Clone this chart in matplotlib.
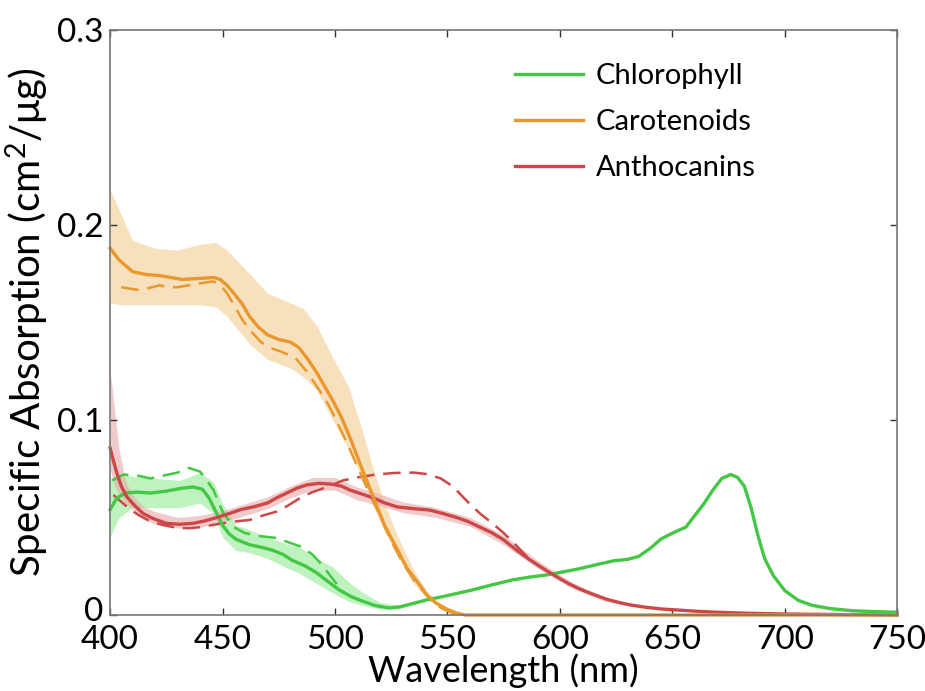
import numpy as np
import matplotlib
matplotlib.use("Agg")
import matplotlib.pyplot as plt
import matplotlib.transforms as mtransforms

plt.rcParams['font.family'] = ['Lato', 'DejaVu Sans']
plt.rcParams['mathtext.fontset'] = 'custom'
plt.rcParams['mathtext.rm'] = 'Lato'
plt.rcParams['mathtext.it'] = 'Lato'

# ---- chlorophyll ----
chl_wl = [400, 403, 407, 412, 418, 425, 432, 437, 441, 444, 447, 450, 453, 456, 462, 467,
          472, 477, 481, 487, 492, 497, 502, 507, 512, 518, 524, 529, 535, 541, 547, 554,
          561, 570, 579, 587, 594, 601, 609, 617, 624, 630, 635, 640, 645, 651, 656, 660,
          664, 668, 672, 676, 679, 682, 685, 688, 691, 695, 700, 706, 712, 720, 730, 740, 750]
chl_val = [0.054, 0.060, 0.0626, 0.063, 0.0625, 0.0635, 0.065, 0.0656, 0.0645, 0.060, 0.053,
           0.046, 0.0415, 0.0388, 0.036, 0.0348, 0.0333, 0.031, 0.028, 0.025, 0.0215, 0.017,
           0.0128, 0.0095, 0.0072, 0.0048, 0.0036, 0.0042, 0.006, 0.0078, 0.0092, 0.011,
           0.0128, 0.0155, 0.018, 0.0195, 0.0205, 0.022, 0.0238, 0.026, 0.0278, 0.0285, 0.030,
           0.034, 0.039, 0.0425, 0.045, 0.051, 0.057, 0.064, 0.070, 0.072, 0.0705, 0.066,
           0.055, 0.041, 0.029, 0.020, 0.0125, 0.0075, 0.005, 0.0033, 0.0022, 0.0017, 0.0014]
chl_dash_wl = [401, 406, 412, 418, 424, 430, 435, 440, 443, 446, 450, 455, 460, 466, 474,
               480, 485, 490, 494, 498, 502]
chl_dash_val = [0.069, 0.072, 0.0715, 0.070, 0.0715, 0.073, 0.0754, 0.0735, 0.069, 0.064,
                0.053, 0.045, 0.042, 0.0405, 0.0395, 0.037, 0.035, 0.031, 0.026, 0.020, 0.014]
chl_band_wl = [400, 404, 410, 420, 431, 440, 446, 450, 456, 462, 470, 477, 484, 492, 499,
               506, 512, 520, 528, 535]
chl_lo = [0.040, 0.050, 0.055, 0.055, 0.055, 0.0574, 0.052, 0.040, 0.033, 0.032, 0.029,
          0.025, 0.0215, 0.016, 0.0113, 0.007, 0.005, 0.003, 0.003, 0.0055]
chl_hi = [0.070, 0.073, 0.071, 0.070, 0.069, 0.073, 0.068, 0.057, 0.046, 0.0436, 0.040,
          0.037, 0.035, 0.029, 0.0246, 0.017, 0.0118, 0.0065, 0.005, 0.0065]

# ---- carotenoids ----
car_wl = [400, 404, 410, 416, 422, 427, 432, 440, 446, 449, 452, 455, 459, 462, 466, 470,
          475, 480, 484, 488, 492, 496, 499, 503, 507, 512, 517, 522, 528, 532, 537, 541,
          545, 550, 554, 558, 600, 750]
car_val = [0.188, 0.182, 0.176, 0.1745, 0.174, 0.173, 0.172, 0.1725, 0.173, 0.172, 0.169,
           0.165, 0.159, 0.153, 0.1475, 0.1436, 0.1412, 0.140, 0.137, 0.131, 0.124, 0.116,
           0.110, 0.101, 0.090, 0.075, 0.0605, 0.046, 0.033, 0.024, 0.0164, 0.010, 0.006,
           0.0028, 0.001, 0.0, 0.0, 0.0]
car_dash_wl = [405, 412, 417, 422, 426, 430, 435, 440, 446, 449, 452, 455, 459, 463, 467,
               471, 476, 480, 483, 488, 492, 496, 499, 505, 510, 515, 520, 525, 530, 535,
               540, 545, 550, 555]
car_dash_val = [0.168, 0.1667, 0.1675, 0.169, 0.168, 0.168, 0.169, 0.170, 0.171, 0.169,
                0.165, 0.159, 0.151, 0.145, 0.140, 0.137, 0.135, 0.133, 0.131, 0.124, 0.117,
                0.110, 0.1035, 0.089, 0.076, 0.063, 0.051, 0.038, 0.027, 0.018, 0.011, 0.005,
                0.002, 0.0]
car_band_wl = [400, 405, 410, 420, 430, 440, 447, 452, 457, 462, 470, 480, 486, 492, 499,
               506, 512, 517, 522, 528, 535, 541, 548, 555]
car_lo = [0.160, 0.159, 0.159, 0.159, 0.159, 0.159, 0.158, 0.153, 0.146, 0.139, 0.131,
          0.1267, 0.122, 0.115, 0.100, 0.085, 0.070, 0.056, 0.043, 0.030, 0.016, 0.009,
          0.003, 0.0]
car_hi = [0.218, 0.205, 0.192, 0.188, 0.187, 0.190, 0.191, 0.187, 0.181, 0.175, 0.165,
          0.160, 0.157, 0.148, 0.132, 0.117, 0.095, 0.075, 0.057, 0.040, 0.023, 0.012,
          0.005, 0.001]

# ---- anthocyanins ----
ant_wl = [400, 401.5, 403, 405, 407.5, 411, 414.7, 419, 425, 431, 437, 442, 447.6, 453, 458,
          464, 470, 474, 478.7, 483, 487.6, 493, 499, 503, 506.7, 512, 517, 522, 527.6, 535,
          542, 548, 554, 559, 564.5, 570, 575, 581, 587, 593, 598.7, 604, 609, 615, 621, 627,
          631, 638, 645, 653, 661, 668, 680, 700, 750]
ant_val = [0.0856, 0.079, 0.0728, 0.066, 0.0605, 0.056, 0.052, 0.0495, 0.047, 0.0465, 0.047,
           0.0482, 0.050, 0.052, 0.054, 0.0555, 0.0574, 0.060, 0.0626, 0.065, 0.0667, 0.0675,
           0.067, 0.066, 0.064, 0.062, 0.060, 0.0575, 0.0554, 0.0545, 0.0538, 0.052, 0.050,
           0.048, 0.045, 0.042, 0.0385, 0.033, 0.028, 0.0235, 0.0195, 0.016, 0.0132, 0.0105,
           0.008, 0.0062, 0.0052, 0.004, 0.0031, 0.0025, 0.0019, 0.0015, 0.001, 0.0005, 0.0]
ant_dash_wl = [401.5, 405, 409, 413, 418, 424, 430, 435, 440, 445, 450, 456, 462, 468, 474,
               479, 484.5, 490, 496.5, 503.6, 510, 517, 526, 535, 541, 547, 551, 554, 559,
               564.5, 570, 575, 579.5, 583.7, 588]
ant_dash_val = [0.0615, 0.058, 0.054, 0.051, 0.048, 0.046, 0.0446, 0.0445, 0.045, 0.046,
                0.047, 0.048, 0.0487, 0.051, 0.053, 0.056, 0.060, 0.063, 0.0656, 0.069,
                0.0705, 0.0718, 0.0728, 0.073, 0.0722, 0.070, 0.067, 0.064, 0.058, 0.052,
                0.047, 0.042, 0.037, 0.0318, 0.027]
ant_band_wl = [400, 402, 404, 407, 411, 415, 420, 430, 440, 450, 460, 470, 480, 490, 500,
               510, 520, 530, 545, 560, 575, 590, 605, 620, 640]
ant_lo = [0.075, 0.066, 0.062, 0.057, 0.053, 0.049, 0.0465, 0.0445, 0.045, 0.0475, 0.051,
          0.0545, 0.060, 0.064, 0.064, 0.059, 0.056, 0.0525, 0.050, 0.0455, 0.036, 0.024,
          0.014, 0.007, 0.003]
ant_hi = [0.1256, 0.105, 0.085, 0.068, 0.060, 0.0555, 0.053, 0.050, 0.051, 0.0535, 0.057,
          0.0605, 0.066, 0.0705, 0.0705, 0.0655, 0.062, 0.058, 0.055, 0.050, 0.041, 0.028,
          0.017, 0.009, 0.004]

green = '#44c744'
orange = '#e8982c'
red = '#cc4848'

fig = plt.figure(figsize=(9.25, 6.91), dpi=100)
ax = fig.add_axes([0.119, 0.110, 0.851, 0.847])

ax.fill_between(car_band_wl, car_lo, car_hi, color='#f7e1bd', lw=0)
ax.fill_between(chl_band_wl, chl_lo, chl_hi, color='#a8eea8', alpha=0.75, lw=0)
ax.fill_between(ant_band_wl, ant_lo, ant_hi, color='#e9a9ab', alpha=0.6, lw=0)

dash = (7, 3.5)
ax.plot(chl_dash_wl, chl_dash_val, color=green, lw=1.8, dashes=dash)
ax.plot(ant_dash_wl, ant_dash_val, color=red, lw=1.8, dashes=dash)
ax.plot(car_dash_wl, car_dash_val, color=orange, lw=1.8, dashes=dash)

l1, = ax.plot(chl_wl, chl_val, color=green, lw=2.4, label='Chlorophyll', clip_on=False)
l3, = ax.plot(ant_wl, ant_val, color=red, lw=2.4, label='Anthocanins', clip_on=False)
l2, = ax.plot(car_wl, car_val, color=orange, lw=2.4, label='Carotenoids', clip_on=False)

ax.set_xlim(400, 750)
ax.set_ylim(0, 0.3)
ax.set_xticks(np.arange(400, 751, 50))
ax.set_yticks([0, 0.1, 0.2, 0.3])
ax.set_yticklabels(['0', '0.1', '0.2', '0.3'])
ax.tick_params(direction='in', length=5, width=1, color='#333333', labelsize=24,
               top=True, right=True, pad=5)
ax.tick_params(axis='x', pad=7)
for s in ax.spines.values():
    s.set_color('#777777')
    s.set_linewidth(1.2)

# nudge the "0" label up a little so it doesn't sit on "400"
zero_lab = ax.yaxis.get_major_ticks()[0].label1
zero_lab.set_transform(zero_lab.get_transform() +
                       mtransforms.ScaledTranslation(0, 4 / 72, fig.dpi_scale_trans))

ax.set_xlabel('Wavelength (nm)', fontsize=26, labelpad=-1)
ax.set_ylabel(r'Specific Absorption (cm$^2$/$\mu$g)', fontsize=29, labelpad=4)

ax.legend(handles=[l1, l2, l3], loc='upper left', bbox_to_anchor=(0.515, 0.943),
          frameon=False, fontsize=21, borderaxespad=0, borderpad=0,
          handlelength=2.3, handletextpad=0.45, labelspacing=0.68)

fig.savefig('out.png', dpi=100)
